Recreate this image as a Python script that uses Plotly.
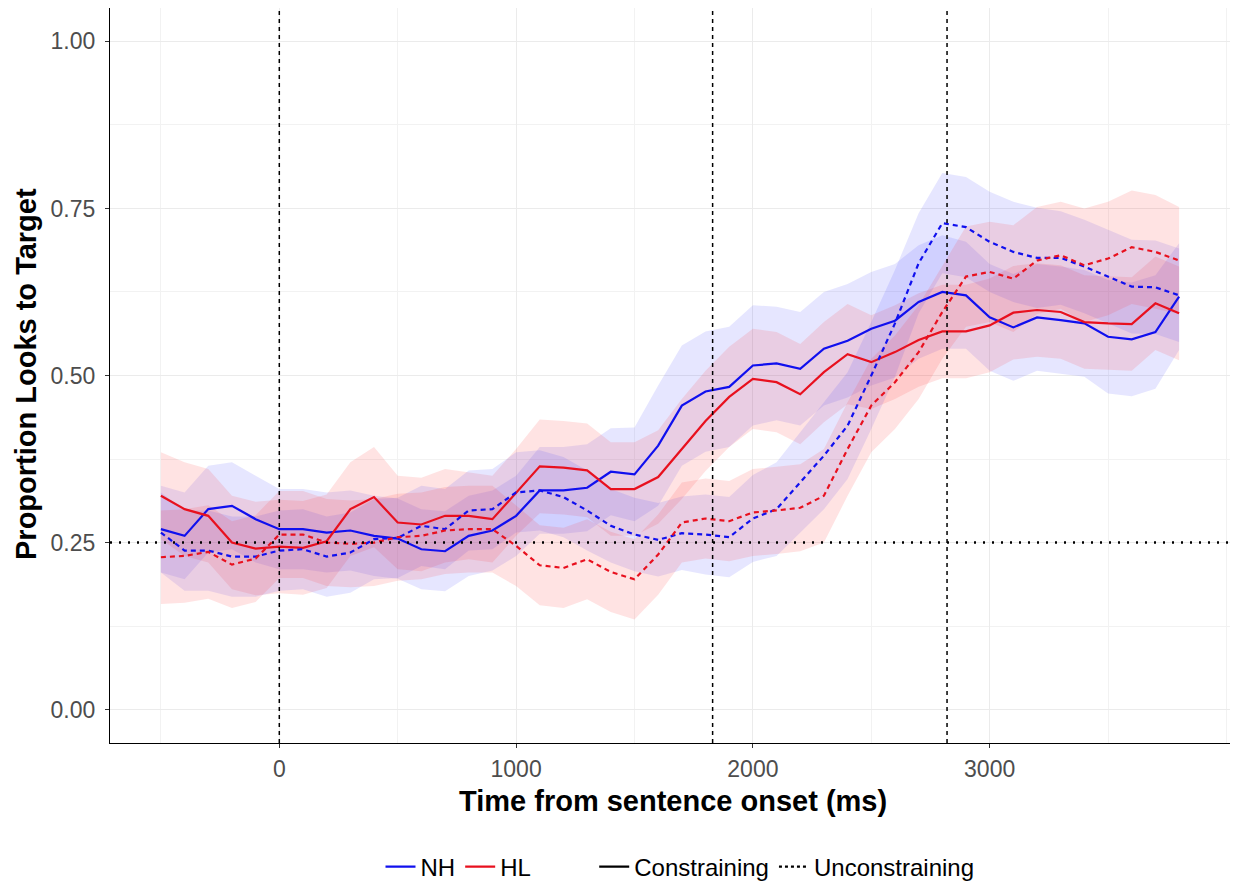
import plotly.graph_objects as go

# Time grid (ms)
time_ms = list(range(-500, 3801, 100))

# Mean proportion of looks to target
nh_constraining = [0.27, 0.26, 0.30, 0.305, 0.285, 0.27, 0.27, 0.265, 0.268, 0.26,
                   0.256, 0.24, 0.237, 0.26, 0.268, 0.29, 0.328, 0.328, 0.332, 0.356,
                   0.352, 0.395, 0.455, 0.476, 0.483, 0.515, 0.518, 0.51, 0.54, 0.552,
                   0.57, 0.582, 0.61, 0.625, 0.62, 0.587, 0.572, 0.587, 0.583, 0.578,
                   0.558, 0.554, 0.565, 0.618]
hl_constraining = [0.32, 0.30, 0.29, 0.25, 0.241, 0.244, 0.242, 0.252, 0.30, 0.318,
                   0.28, 0.277, 0.29, 0.29, 0.285, 0.325, 0.364, 0.362, 0.358, 0.33,
                   0.33, 0.348, 0.39, 0.432, 0.468, 0.495, 0.49, 0.472, 0.505, 0.532,
                   0.52, 0.535, 0.553, 0.566, 0.566, 0.575, 0.594, 0.598, 0.595, 0.58,
                   0.578, 0.577, 0.608, 0.593]
nh_unconstraining = [0.265, 0.238, 0.238, 0.229, 0.229, 0.238, 0.24, 0.229, 0.235, 0.255,
                     0.257, 0.275, 0.27, 0.298, 0.30, 0.325, 0.328, 0.318, 0.298, 0.275,
                     0.262, 0.254, 0.264, 0.262, 0.258, 0.286, 0.30, 0.34, 0.38, 0.425,
                     0.50, 0.578, 0.668, 0.728, 0.722, 0.70, 0.685, 0.676, 0.676, 0.663,
                     0.648, 0.633, 0.632, 0.62]
hl_unconstraining = [0.228, 0.23, 0.236, 0.217, 0.226, 0.262, 0.262, 0.25, 0.248, 0.25,
                     0.258, 0.26, 0.268, 0.27, 0.27, 0.245, 0.216, 0.212, 0.225, 0.206,
                     0.195, 0.232, 0.28, 0.286, 0.282, 0.295, 0.298, 0.302, 0.32, 0.39,
                     0.455, 0.49, 0.535, 0.595, 0.648, 0.655, 0.645, 0.672, 0.68, 0.665,
                     0.675, 0.692, 0.685, 0.672]

# Confidence-band half widths
nh_constraining_ci = [0.065, 0.065, 0.065, 0.065, 0.065, 0.06, 0.06, 0.06, 0.06, 0.06,
                      0.06, 0.06, 0.06, 0.06, 0.06, 0.06, 0.065, 0.065, 0.065, 0.065,
                      0.07, 0.09, 0.09, 0.09, 0.09, 0.09, 0.085, 0.085, 0.085, 0.085,
                      0.085, 0.085, 0.085, 0.085, 0.08, 0.08, 0.08, 0.08, 0.08, 0.08,
                      0.085, 0.085, 0.085, 0.08]
hl_constraining_ci = [0.065, 0.07, 0.07, 0.07, 0.07, 0.07, 0.07, 0.07, 0.07, 0.075,
                      0.07, 0.07, 0.07, 0.065, 0.065, 0.065, 0.07, 0.07, 0.07, 0.07,
                      0.07, 0.07, 0.075, 0.075, 0.075, 0.075, 0.075, 0.075, 0.075, 0.075,
                      0.07, 0.07, 0.07, 0.07, 0.07, 0.07, 0.07, 0.07, 0.07, 0.07,
                      0.07, 0.07, 0.07, 0.07]
nh_unconstraining_ci = [0.06, 0.06, 0.06, 0.06, 0.06, 0.06, 0.06, 0.06, 0.06, 0.06,
                        0.06, 0.06, 0.06, 0.06, 0.06, 0.06, 0.06, 0.06, 0.06, 0.055,
                        0.055, 0.055, 0.055, 0.06, 0.06, 0.065, 0.07, 0.075, 0.08, 0.08,
                        0.08, 0.08, 0.075, 0.075, 0.075, 0.075, 0.075, 0.075, 0.07, 0.07,
                        0.07, 0.07, 0.07, 0.07]
hl_unconstraining_ci = [0.07, 0.07, 0.07, 0.065, 0.065, 0.065, 0.065, 0.065, 0.065, 0.065,
                        0.065, 0.065, 0.065, 0.065, 0.065, 0.06, 0.06, 0.06, 0.06, 0.06,
                        0.06, 0.06, 0.06, 0.06, 0.06, 0.065, 0.065, 0.065, 0.07, 0.07,
                        0.07, 0.07, 0.07, 0.07, 0.075, 0.075, 0.08, 0.08, 0.08, 0.085,
                        0.085, 0.085, 0.085, 0.08]

# Reference lines
vlines_ms = [0, 1830, 2820]
chance_level = 0.25

y_ticks = [0.0, 0.25, 0.5, 0.75, 1.0]
y_ticklabels = ["0.00", "0.25", "0.50", "0.75", "1.00"]
x_ticks = [0, 1000, 2000, 3000]

BLUE = "#1010EE"
RED = "#E8101E"
BLUE_FILL = "rgba(60,60,255,0.13)"
RED_FILL = "rgba(255,60,60,0.14)"

series = [
    (nh_constraining, nh_constraining_ci, BLUE, BLUE_FILL, "solid"),
    (hl_constraining, hl_constraining_ci, RED, RED_FILL, "solid"),
    (nh_unconstraining, nh_unconstraining_ci, BLUE, BLUE_FILL, "5px,4px"),
    (hl_unconstraining, hl_unconstraining_ci, RED, RED_FILL, "5px,4px"),
]

fig = go.Figure()

for mean, ci, col, fill, dash in series:
    upper = [m + c for m, c in zip(mean, ci)]
    lower = [m - c for m, c in zip(mean, ci)]
    fig.add_trace(go.Scatter(
        x=time_ms + time_ms[::-1], y=upper + lower[::-1],
        fill="toself", fillcolor=fill, line=dict(width=0),
        mode="lines", showlegend=False, hoverinfo="skip"))

for mean, ci, col, fill, dash in series:
    fig.add_trace(go.Scatter(
        x=time_ms, y=mean, mode="lines",
        line=dict(color=col, width=2.2, dash=dash),
        showlegend=False))

# Legend entries
fig.add_trace(go.Scatter(x=[None], y=[None], mode="lines", name="NH",
                         line=dict(color=BLUE, width=2.2)))
fig.add_trace(go.Scatter(x=[None], y=[None], mode="lines", name="HL",
                         line=dict(color=RED, width=2.2)))
fig.add_trace(go.Scatter(x=[None], y=[None], mode="lines", name="  ",
                         line=dict(color="rgba(0,0,0,0)", width=2.2)))
fig.add_trace(go.Scatter(x=[None], y=[None], mode="lines", name="Constraining",
                         line=dict(color="black", width=2.2)))
fig.add_trace(go.Scatter(x=[None], y=[None], mode="lines", name="Unconstraining",
                         line=dict(color="black", width=2.2, dash="dot")))

for v in vlines_ms:
    fig.add_shape(type="line", xref="x", yref="paper", x0=v, x1=v, y0=0, y1=1,
                  line=dict(color="black", width=1.5, dash="4px,4px"))
fig.add_shape(type="line", xref="paper", yref="y", x0=0, x1=1,
              y0=chance_level, y1=chance_level,
              line=dict(color="black", width=2.5, dash="2px,7px"))

# Axis titles (placed as annotations for exact position)
fig.add_annotation(text="<b>Time from sentence onset (ms)</b>", xref="paper", yref="paper",
                   x=(673 - 110) / 1120, y=-(801 - 743) / 735, xanchor="center",
                   yanchor="middle", showarrow=False,
                   font=dict(size=29, color="black"))
fig.add_annotation(text="<b>Proportion Looks to Target</b>", xref="paper", yref="paper",
                   x=-(110 - 26) / 1120, y=(743 - 374) / 735, xanchor="center",
                   yanchor="middle", showarrow=False, textangle=-90,
                   font=dict(size=29, color="black"))

fig.update_layout(
    width=1230, height=876,
    margin=dict(l=102, r=8, t=0, b=141, autoexpand=False),
    paper_bgcolor="white", plot_bgcolor="white",
    font=dict(family="Liberation Sans, Arial, sans-serif", color="black"),
    legend=dict(orientation="h", x=(680 - 110) / 1120, xanchor="center",
                y=-(867 - 743) / 735, yanchor="middle",
                font=dict(size=24, color="black"), itemwidth=30),
    xaxis=dict(range=[-715, 4015], tickvals=x_ticks, automargin=False,
               showgrid=True, gridcolor="#EBEBEB", gridwidth=1.2,
               minor=dict(dtick=500, tick0=0, showgrid=True,
                          gridcolor="#F2F2F2", gridwidth=0.8),
               showline=True, mirror=True, linecolor="black", linewidth=1.2,
               ticks="outside", ticklen=4, tickcolor="#333333",
               zeroline=False, ticklabelstandoff=1,
               tickfont=dict(size=23, color="#4D4D4D")),
    yaxis=dict(range=[-0.05, 1.05], tickvals=y_ticks, ticktext=y_ticklabels,
               automargin=False,
               showgrid=True, gridcolor="#EBEBEB", gridwidth=1.2,
               minor=dict(dtick=0.125, tick0=0, showgrid=True,
                          gridcolor="#F2F2F2", gridwidth=0.8),
               showline=True, mirror=True, linecolor="black", linewidth=1.2,
               ticks="outside", ticklen=4, tickcolor="#333333",
               zeroline=False, ticklabelstandoff=5,
               tickfont=dict(size=23, color="#4D4D4D")),
)

fig.write_html("out.html")
